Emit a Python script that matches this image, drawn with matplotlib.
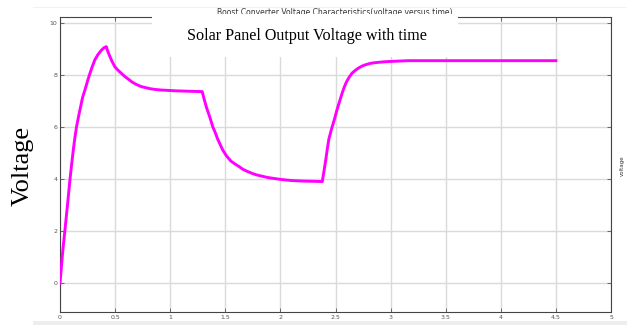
import matplotlib
matplotlib.use("Agg")
import matplotlib.pyplot as plt
from matplotlib.patches import Rectangle
from matplotlib.lines import Line2D

# time (s) and voltage
time_s = [0, 0.01, 0.02, 0.03, 0.045, 0.07, 0.09, 0.105, 0.12, 0.135, 0.15, 0.17, 0.19,
          0.205, 0.226, 0.25, 0.27, 0.29, 0.316, 0.345, 0.377, 0.4, 0.42,
          0.435, 0.45, 0.47, 0.497, 0.52, 0.55, 0.588, 0.62, 0.65, 0.69, 0.739, 0.78,
          0.82, 0.87, 0.92, 1.05, 1.2, 1.29,
          1.31, 1.33, 1.36, 1.386, 1.41, 1.43, 1.476, 1.51, 1.55, 1.59, 1.627, 1.66, 1.7,
          1.74, 1.78, 1.83, 1.88, 1.94, 1.99, 2.05, 2.1, 2.2, 2.3, 2.38,
          2.395, 2.41, 2.425, 2.44, 2.465, 2.49, 2.51, 2.53, 2.56, 2.58, 2.6, 2.625, 2.65,
          2.68, 2.71, 2.74, 2.77, 2.81, 2.85, 2.9, 2.95, 3.05, 3.16, 3.5, 4.5]
voltage = [0, 0.5, 1.0, 1.45, 2.05, 3.1, 3.97, 4.55, 5.1, 5.6, 6.02, 6.45, 6.85,
           7.15, 7.43, 7.78, 8.05, 8.3, 8.59, 8.8, 8.97, 9.06, 9.1,
           8.9, 8.75, 8.55, 8.33, 8.22, 8.1, 7.95, 7.85, 7.75, 7.65, 7.56, 7.52,
           7.48, 7.45, 7.43, 7.4, 7.38, 7.37,
           7.05, 6.75, 6.38, 6.02, 5.78, 5.55, 5.13, 4.9, 4.7, 4.58, 4.48, 4.38, 4.3,
           4.23, 4.17, 4.12, 4.07, 4.03, 4.0, 3.97, 3.95, 3.93, 3.92, 3.91,
           4.3, 4.7, 5.15, 5.55, 5.95, 6.3, 6.62, 6.9, 7.31, 7.55, 7.75, 7.93, 8.08,
           8.19, 8.28, 8.35, 8.4, 8.45, 8.48, 8.5, 8.52, 8.54, 8.56, 8.56, 8.56]

x_ticks = [0, 0.5, 1, 1.5, 2, 2.5, 3, 3.5, 4, 4.5, 5]
x_labels = ["0", "0.5", "1", "1.5", "2", "2.5", "3", "3.5", "4", "4.5", "5"]
y_ticks = [0, 2, 4, 6, 8, 10]

fig = plt.figure(figsize=(6.27, 3.25), dpi=100)
ax = fig.add_axes([0.0957, 0.039, 0.8788, 0.9095])

ax.plot(time_s, voltage, color="#ff00ff", linewidth=2.1, solid_joinstyle="round", zorder=3)

ax.set_xlim(0, 5)
ax.set_ylim(-1.12, 10.25)
ax.set_xticks(x_ticks)
ax.set_xticklabels(x_labels)
ax.set_yticks(y_ticks)
ax.grid(True, color="#dadada", linewidth=1.0)
ax.tick_params(direction="in", length=3, width=0.6, colors="#555555", labelsize=4.5,
               top=True, right=True, pad=2)
for s in ax.spines.values():
    s.set_color("#444444")
    s.set_linewidth(0.8)

# original small matlab title, half hidden by the white box
fig.text(0.534, 0.962, "Boost Converter Voltage Characteristics(voltage versus time)",
         ha="center", va="center", fontsize=5.5, color="#333333", zorder=1)

# white box pasted over the top of the plot
fig.add_artist(Rectangle((0.2424, 0.8246), 0.488, 0.133, transform=fig.transFigure,
                         facecolor="white", edgecolor="none", zorder=10))
fig.text(0.489, 0.889, "Solar Panel Output Voltage with time", ha="center", va="center",
         fontsize=11.6, family="Liberation Serif", zorder=11)

fig.text(0.036, 0.49, "Voltage", rotation=90, ha="center", va="center",
         fontsize=19, family="Liberation Serif", zorder=11)
fig.text(0.993, 0.49, "voltage", rotation=90, ha="center", va="center",
         fontsize=4, color="#333333")

# light frame bits from the screenshot
fig.add_artist(Rectangle((0.053, 0.0), 0.947, 0.012, transform=fig.transFigure,
                         facecolor="#eeeeee", edgecolor="none", zorder=0))
fig.add_artist(Line2D([0.053, 1.0], [0.979, 0.979], transform=fig.transFigure,
                      color="#f2f2f2", linewidth=0.8))

fig.savefig("out.png", dpi=100)
